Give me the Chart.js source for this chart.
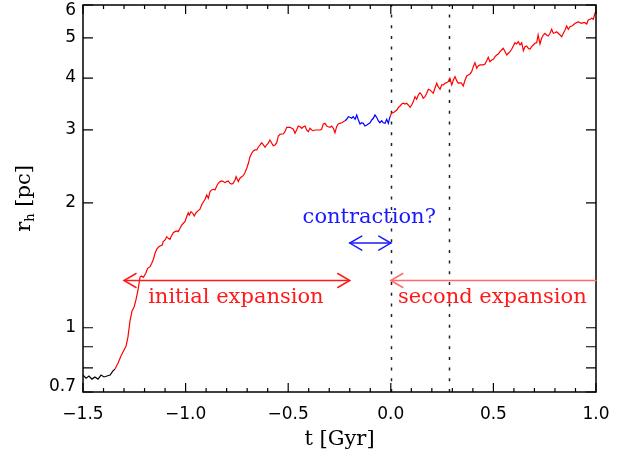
<!DOCTYPE html>
<html><head><meta charset="utf-8">
<script src="https://cdn.jsdelivr.net/npm/chart.js@4/dist/chart.umd.min.js"></script>
<style>html,body{margin:0;padding:0;background:#fff}canvas{display:block}</style>
</head><body>
<canvas id="c" width="631" height="452"></canvas>
<script>
// ---- data (t in Gyr, r_h in pc) ----
const tBlack = [-1.500,-1.485,-1.471,-1.456,-1.442,-1.427,-1.412,-1.398,-1.383,-1.368,-1.354,-1.344];
const rBlack = [0.769,0.756,0.765,0.752,0.761,0.752,0.769,0.761,0.765,0.769,0.787,0.795];

const tRise = [-1.344,-1.329,-1.315,-1.300,-1.290,-1.281,-1.271,-1.261,-1.251,-1.242,-1.232,-1.222,-1.215,-1.206,-1.194,-1.185,-1.173,-1.165,-1.157,-1.149,-1.141,-1.133,-1.125,-1.114,-1.109,-1.100,-1.092,-1.084,-1.076,-1.071,-1.060,-1.052,-1.043,-1.036,-1.027,-1.019,-1.011,-1.003,-0.995,-0.987,-0.982,-0.974,-0.965,-0.958,-0.949,-0.938,-0.930,-0.920,-0.905,-0.897,-0.889,-0.881,-0.873,-0.865,-0.857,-0.848,-0.841,-0.832,-0.824,-0.816,-0.808,-0.800,-0.792,-0.784,-0.775,-0.768,-0.759,-0.754,-0.748,-0.743,-0.735,-0.727,-0.719,-0.711,-0.702,-0.694,-0.686,-0.678,-0.670,-0.662,-0.653,-0.646,-0.637,-0.629,-0.621,-0.613,-0.605,-0.597,-0.589,-0.580,-0.573,-0.564,-0.556,-0.548,-0.540,-0.532,-0.524,-0.516,-0.507,-0.500,-0.491,-0.483,-0.475,-0.467,-0.459,-0.451,-0.442,-0.434,-0.426,-0.418,-0.410,-0.402,-0.394,-0.385,-0.378,-0.369,-0.361,-0.353,-0.345,-0.337,-0.329,-0.321,-0.312,-0.305,-0.296,-0.288,-0.280,-0.272,-0.264,-0.256,-0.248,-0.239,-0.231,-0.223];
const rRise = [0.795,0.822,0.855,0.884,0.904,0.949,1.038,1.098,1.122,1.167,1.233,1.325,1.333,1.323,1.353,1.391,1.404,1.430,1.463,1.512,1.546,1.563,1.574,1.583,1.613,1.628,1.658,1.643,1.634,1.658,1.695,1.705,1.711,1.705,1.737,1.769,1.786,1.802,1.852,1.894,1.870,1.905,1.888,1.860,1.894,1.916,1.931,1.988,2.041,2.090,2.052,2.129,2.149,2.157,2.149,2.197,2.230,2.251,2.259,2.251,2.238,2.251,2.259,2.230,2.221,2.230,2.272,2.313,2.281,2.251,2.294,2.313,2.326,2.365,2.424,2.492,2.585,2.635,2.668,2.683,2.683,2.724,2.759,2.794,2.759,2.724,2.759,2.785,2.836,2.785,2.748,2.759,2.794,2.900,2.927,2.932,2.932,2.970,3.043,3.043,3.043,3.026,3.010,2.944,2.998,3.065,3.053,3.026,3.053,3.065,2.998,2.970,3.026,2.998,2.986,2.998,2.998,2.998,2.998,3.010,3.099,3.111,3.065,3.053,3.043,3.065,3.026,2.953,3.053,3.099,3.111,3.121,3.139,3.157];

const tContract = [-0.223,-0.215,-0.207,-0.199,-0.191,-0.183,-0.174,-0.166,-0.158,-0.150,-0.142,-0.134,-0.126,-0.117,-0.110,-0.101,-0.093,-0.085,-0.077,-0.069,-0.061,-0.053,-0.044,-0.037,-0.028,-0.020,-0.012,-0.004];
const rContract = [3.157,3.181,3.227,3.217,3.199,3.227,3.181,3.258,3.169,3.099,3.121,3.111,3.065,3.082,3.099,3.121,3.169,3.199,3.258,3.217,3.157,3.121,3.157,3.121,3.111,3.181,3.111,3.227];

const tSecond = [-0.004,0.004,0.012,0.020,0.029,0.037,0.045,0.053,0.061,0.069,0.077,0.085,0.094,0.102,0.110,0.118,0.126,0.134,0.142,0.151,0.158,0.167,0.175,0.183,0.191,0.199,0.207,0.215,0.224,0.231,0.240,0.248,0.256,0.264,0.272,0.280,0.288,0.297,0.305,0.313,0.321,0.329,0.337,0.345,0.353,0.362,0.370,0.378,0.386,0.394,0.402,0.410,0.419,0.426,0.435,0.443,0.451,0.459,0.467,0.475,0.483,0.492,0.500,0.508,0.516,0.524,0.532,0.540,0.548,0.557,0.565,0.573,0.581,0.589,0.597,0.605,0.613,0.621,0.630,0.638,0.646,0.654,0.662,0.670,0.678,0.686,0.694,0.702,0.711,0.718,0.727,0.735,0.743,0.751,0.759,0.767,0.776,0.784,0.792,0.800,0.808,0.816,0.825,0.833,0.841,0.849,0.857,0.865,0.873,0.882,0.889,0.898,0.906,0.913,0.922,0.930,0.938,0.946,0.955,0.962,0.971,0.979,0.987,0.995,1.000];
const rSecond = [3.227,3.294,3.300,3.322,3.350,3.397,3.425,3.463,3.477,3.463,3.477,3.444,3.400,3.444,3.509,3.607,3.556,3.641,3.688,3.641,3.576,3.607,3.676,3.759,3.744,3.709,3.676,3.780,3.886,3.813,3.759,3.849,3.849,3.886,3.898,3.920,3.995,3.849,3.957,4.031,3.942,3.886,3.898,3.886,3.828,3.957,4.046,4.069,4.092,4.144,4.261,4.356,4.223,4.277,4.301,4.301,4.301,4.325,4.405,4.488,4.380,4.422,4.439,4.503,4.546,4.571,4.630,4.674,4.718,4.630,4.546,4.589,4.630,4.692,4.779,4.867,4.832,4.895,4.806,4.867,4.656,4.761,4.779,4.718,4.692,4.761,4.806,4.852,4.867,5.080,4.832,4.988,5.080,5.128,5.080,5.052,5.128,5.243,5.128,5.145,5.173,5.128,5.080,5.032,5.128,5.223,5.340,5.243,5.320,5.340,5.370,5.421,5.439,5.469,5.439,5.421,5.439,5.439,5.400,5.521,5.543,5.573,5.543,5.730,5.781];

// ---- axes ----
const xTicks = [-1.5,-1.0,-0.5,0.0,0.5,1.0];
const xTickLabels = ['\u22121.5','\u22121.0','\u22120.5','0.0','0.5','1.0'];
const xMinorTicks = [-1.4,-1.3,-1.2,-1.1,-0.9,-0.8,-0.7,-0.6,-0.4,-0.3,-0.2,-0.1,0.1,0.2,0.3,0.4,0.6,0.7,0.8,0.9];
const yTicks = [0.7,0.8,0.9,1,2,3,4,5,6];
const yTickLabels = ['0.7','','','1','2','3','4','5','6'];

// ---- annotations (data units) ----
const markerTimes = [0.0, 0.285];
const initialArrow = [-1.3, -0.2, 1.30];
const contractionArrow = [-0.2, 0.0, 1.60];
const secondArrow = [0.0, 1.0, 1.30];
const initialLabel = ['initial expansion', -0.755, 1.147];
const contractionLabel = ['contraction?', -0.105, 1.79];
const secondLabel = ['second expansion', 0.495, 1.147];

const pts = (t, r) => t.map((v, i) => ({x: v, y: r[i]}));

function arrow(ctx, x1, x2, y, headL, headR, color, lw) {
  ctx.save();
  ctx.strokeStyle = color; ctx.lineWidth = lw; ctx.lineCap = 'round';
  ctx.beginPath(); ctx.moveTo(x1, y); ctx.lineTo(x2, y); ctx.stroke();
  const hl = 12, hw = 7;
  if (headL) { ctx.beginPath(); ctx.moveTo(x1 + hl, y - hw); ctx.lineTo(x1, y); ctx.lineTo(x1 + hl, y + hw); ctx.stroke(); }
  if (headR) { ctx.beginPath(); ctx.moveTo(x2 - hl, y - hw); ctx.lineTo(x2, y); ctx.lineTo(x2 - hl, y + hw); ctx.stroke(); }
  ctx.restore();
}

const overlay = {
  id: 'overlay',
  beforeDatasetsDraw(chart) {
    const {ctx, chartArea: a, scales: {x}} = chart;
    ctx.save();
    ctx.strokeStyle = '#222'; ctx.lineWidth = 1.5; ctx.setLineDash([3, 7.7]);
    markerTimes.forEach(t => {
      const px = Math.round(x.getPixelForValue(t)) + 0.5;
      ctx.beginPath(); ctx.moveTo(px, a.bottom); ctx.lineTo(px, a.top); ctx.stroke();
    });
    ctx.restore();
  },
  afterDraw(chart) {
    const {ctx, chartArea: a, scales: {x, y}} = chart;
    ctx.save();
    // frame
    ctx.strokeStyle = '#000'; ctx.lineWidth = 1.5;
    ctx.strokeRect(a.left, a.top, a.right - a.left, a.bottom - a.top);
    // x ticks (inward, top & bottom)
    ctx.lineWidth = 1.2;
    const xt = (v, len) => {
      const px = x.getPixelForValue(v);
      ctx.beginPath(); ctx.moveTo(px, a.bottom); ctx.lineTo(px, a.bottom - len);
      ctx.moveTo(px, a.top); ctx.lineTo(px, a.top + len); ctx.stroke();
    };
    xTicks.forEach(v => xt(v, 9));
    xMinorTicks.forEach(v => xt(v, 4));
    yTicks.forEach(v => {
      const py = y.getPixelForValue(v);
      ctx.beginPath(); ctx.moveTo(a.left, py); ctx.lineTo(a.left + 10, py);
      ctx.moveTo(a.right, py); ctx.lineTo(a.right - 10, py); ctx.stroke();
    });
    // arrows
    arrow(ctx, x.getPixelForValue(initialArrow[0]), x.getPixelForValue(initialArrow[1]), y.getPixelForValue(initialArrow[2]), true, true, '#ff1a1a', 1.5);
    arrow(ctx, x.getPixelForValue(contractionArrow[0]), x.getPixelForValue(contractionArrow[1]), y.getPixelForValue(contractionArrow[2]), true, true, '#1a1aff', 1.5);
    arrow(ctx, x.getPixelForValue(secondArrow[0]), x.getPixelForValue(secondArrow[1]), y.getPixelForValue(secondArrow[2]), true, false, '#ff6a6a', 1.5);
    // labels
    ctx.font = '21px "DejaVu Serif"';
    ctx.textAlign = 'center'; ctx.textBaseline = 'alphabetic';
    ctx.fillStyle = '#ff1a1a';
    ctx.fillText(initialLabel[0], x.getPixelForValue(initialLabel[1]), y.getPixelForValue(initialLabel[2]));
    ctx.fillText(secondLabel[0], x.getPixelForValue(secondLabel[1]), y.getPixelForValue(secondLabel[2]));
    ctx.fillStyle = '#1a1aff';
    ctx.fillText(contractionLabel[0], x.getPixelForValue(contractionLabel[1]), y.getPixelForValue(contractionLabel[2]));
    // y title r_h [pc]
    ctx.fillStyle = '#000';
    ctx.translate(30, (a.top + a.bottom) / 2);
    ctx.rotate(-Math.PI / 2);
    ctx.textAlign = 'left';
    const f1 = '21px "DejaVu Serif"', f2 = '13px "DejaVu Serif"';
    ctx.font = f1; const w1 = ctx.measureText('r').width; const w3 = ctx.measureText(' [pc]').width;
    ctx.font = f2; const w2 = ctx.measureText('h').width;
    let cx = -(w1 + w2 + w3) / 2;
    ctx.font = f1; ctx.fillText('r', cx, 0); cx += w1;
    ctx.font = f2; ctx.fillText('h', cx, 4); cx += w2;
    ctx.font = f1; ctx.fillText(' [pc]', cx, 0);
    ctx.restore();
  }
};

new Chart(document.getElementById('c'), {
  type: 'scatter',
  data: {
    datasets: [
      {data: pts(tBlack, rBlack), borderColor: '#000000'},
      {data: pts(tRise, rRise), borderColor: '#ff0000'},
      {data: pts(tContract, rContract), borderColor: '#0000ff'},
      {data: pts(tSecond, rSecond), borderColor: '#ff0000'}
    ].map(d => Object.assign(d, {showLine: true, pointRadius: 0, borderWidth: 1.2, tension: 0, fill: false}))
  },
  options: {
    responsive: false, animation: false, devicePixelRatio: 1,
    layout: {padding: {left: 0, top: 5, right: 35, bottom: 0}},
    plugins: {legend: {display: false}, tooltip: {enabled: false}},
    scales: {
      x: {
        type: 'linear', min: -1.5, max: 1.0,
        afterBuildTicks: s => { s.ticks = xTicks.map(v => ({value: v})); },
        afterFit: s => { s.height = 60; s.paddingLeft = 0; s.paddingRight = 0; s.paddingTop = 0; s.paddingBottom = 0; },
        grid: {display: false, drawTicks: false}, border: {display: false},
        ticks: {autoSkip: false, maxRotation: 0, padding: 12, color: '#000',
          font: {family: '"DejaVu Sans"', size: 17},
          callback: (v, i) => xTickLabels[i]},
        title: {display: true, text: 't [Gyr]', color: '#000',
          font: {family: '"DejaVu Serif"', size: 21}, padding: {top: 0, bottom: 0}}
      },
      y: {
        type: 'logarithmic', min: 0.7, max: 6,
        afterBuildTicks: s => { s.ticks = yTicks.map(v => ({value: v})); },
        afterFit: s => { s.width = 83; s.paddingTop = 0; s.paddingBottom = 0; s.paddingLeft = 0; s.paddingRight = 0; },
        grid: {display: false, drawTicks: false}, border: {display: false},
        ticks: {autoSkip: false, padding: 7, color: '#000',
          font: {family: '"DejaVu Sans"', size: 17, lineHeight: 0.6},
          callback: (v, i) => i === 0 ? [yTickLabels[i], ''] : (i === yTicks.length - 1 ? ['', yTickLabels[i]] : yTickLabels[i])}
      }
    }
  },
  plugins: [overlay]
});
</script>
</body></html>
